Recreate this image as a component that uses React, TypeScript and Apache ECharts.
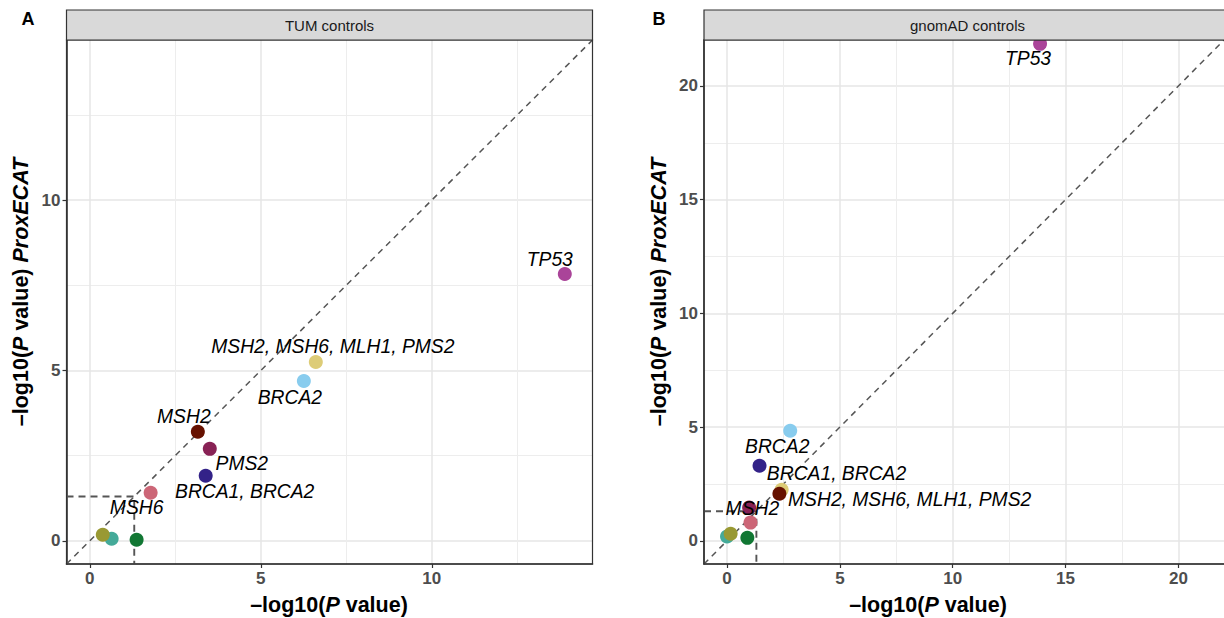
import { useEffect, useRef } from 'react';
import * as echarts from 'echarts';

// ---- data ----
const pointColors = ['#44AA99', '#999933', '#117733', '#CC6677', '#882255', '#332288', '#DDCC77', '#661100', '#88CCEE', '#AA4499'];

// Panel A: TUM controls
const tumX = [0.64, 0.38, 1.37, 1.78, 3.51, 3.39, 6.61, 3.16, 6.26, 13.89];
const tumY = [0.06, 0.18, 0.03, 1.41, 2.70, 1.91, 5.25, 3.20, 4.69, 7.83];
const tumLabels = ['', '', '', 'MSH6', 'PMS2', 'BRCA1, BRCA2', 'MSH2, MSH6, MLH1, PMS2', 'MSH2', 'BRCA2', 'TP53'];

// Panel B: gnomAD controls
const gnomadX = [0.00, 0.16, 0.90, 1.04, 0.98, 1.44, 2.42, 2.32, 2.80, 13.87];
const gnomadY = [0.19, 0.31, 0.13, 0.80, 1.46, 3.30, 2.24, 2.07, 4.84, 21.85];
const gnomadLabels = ['', '', '', '', '', 'BRCA1, BRCA2', 'MSH2, MSH6, MLH1, PMS2', 'MSH2', 'BRCA2', 'TP53'];

const tumTicks = [0, 5, 10];
const gnomadTicks = [0, 5, 10, 15, 20];
const tumRange = [-0.68, 14.7];
const gnomadRange = [-1.02, 22.02];
const threshold = 1.30103; // -log10(0.05)

const panelTitles = ['TUM controls', 'gnomAD controls'];

// ---- layout (not data) ----
const FONT = '"Liberation Sans", Arial, Helvetica, sans-serif';
const gridA = { left: 66.5, top: 40, width: 526, height: 524 };
const gridB = { left: 704, top: 40, width: 527, height: 524 };
const tumLabelOffsets: Record<string, number[]> = {
  'TP53': [-15, -15],
  'MSH2, MSH6, MLH1, PMS2': [17, -15],
  'BRCA2': [-14, 16],
  'MSH2': [-14, -15],
  'PMS2': [32, 15],
  'BRCA1, BRCA2': [39, 16],
  'MSH6': [-14, 15],
};
const gnomadLabelOffsets: Record<string, number[]> = {
  'TP53': [-12, 15],
  'BRCA2': [-13, 16],
  'BRCA1, BRCA2': [77, 8],
  'MSH2, MSH6, MLH1, PMS2': [128, 10],
  'MSH2': [-27, 15],
};

function scatterSeries(xs: number[], ys: number[], labels: string[], offsets: Record<string, number[]>, idx: number) {
  return {
    type: 'scatter',
    xAxisIndex: idx,
    yAxisIndex: idx,
    symbolSize: 14,
    z: 5,
    clip: true,
    data: xs.map((x, i) => ({
      value: [x, ys[i]],
      itemStyle: { color: pointColors[i], opacity: 1 },
      label: labels[i]
        ? { show: true, formatter: labels[i], position: 'inside', offset: offsets[labels[i]] }
        : { show: false },
    })),
    label: {
      fontStyle: 'italic',
      fontSize: 19.3,
      color: '#000',
      fontFamily: FONT,
      textBorderWidth: 0,
    },
    emphasis: { disabled: true },
  };
}

function lineSeries(data: number[][], idx: number, dash: number[], width: number) {
  return {
    type: 'line',
    xAxisIndex: idx,
    yAxisIndex: idx,
    data,
    symbol: 'none',
    z: 3,
    lineStyle: { color: '#555555', width, type: dash },
    silent: true,
  };
}

function axisCommon(range: number[], ticks: number[], splitNumber: number) {
  return {
    type: 'value',
    min: range[0],
    max: range[1],
    splitNumber,
    axisLine: { show: true, onZero: false, lineStyle: { color: '#333333', width: 1.6 } },
    axisTick: { show: true, length: 4, lineStyle: { color: '#333333', width: 1.2 }, customValues: ticks },
    axisLabel: {
      customValues: ticks,
      formatter: (v: number) => (ticks.some((t) => Math.abs(t - v) < 1e-6) ? String(v) : ''),
      color: '#4D4D4D',
      fontWeight: 'bold',
      fontSize: 17,
      fontFamily: FONT,
      margin: 6,
    },
    splitLine: { show: true, lineStyle: { color: '#E6E6E6', width: 1.5 } },
    minorTick: { show: false, splitNumber: 2 },
    minorSplitLine: { show: true, lineStyle: { color: '#EDEDED', width: 1 } },
  };
}

const richTitle = {
  a: { fontSize: 21.5, fontWeight: 'bold', fontFamily: FONT, fill: '#000' },
  b: { fontSize: 21.5, fontWeight: 'bold', fontStyle: 'italic', fontFamily: FONT, fill: '#000' },
};

export default function App() {
  const ref = useRef<HTMLDivElement>(null);
  useEffect(() => {
    if (!ref.current) return;
    const chart = echarts.init(ref.current, undefined, { renderer: 'svg' });
    const grids = [gridA, gridB];
    const option: any = {
      animation: false,
      backgroundColor: '#ffffff',
      grid: grids.map((g) => ({ ...g, containLabel: false })),
      xAxis: [
        { gridIndex: 0, ...axisCommon(tumRange, tumTicks, 3) },
        { gridIndex: 1, ...axisCommon(gnomadRange, gnomadTicks, 5) },
      ],
      yAxis: [
        { gridIndex: 0, ...axisCommon(tumRange, tumTicks, 3) },
        { gridIndex: 1, ...axisCommon(gnomadRange, gnomadTicks, 5) },
      ],
      series: [
        lineSeries([[tumRange[0], tumRange[0]], [tumRange[1], tumRange[1]]], 0, [6, 5], 1.5),
        lineSeries([[tumRange[0], threshold], [threshold, threshold], [threshold, tumRange[0]]], 0, [7, 5], 1.9),
        scatterSeries(tumX, tumY, tumLabels, tumLabelOffsets, 0),
        lineSeries([[gnomadRange[0], gnomadRange[0]], [gnomadRange[1], gnomadRange[1]]], 1, [6, 5], 1.5),
        lineSeries([[gnomadRange[0], threshold], [threshold, threshold], [threshold, gnomadRange[0]]], 1, [7, 5], 1.9),
        scatterSeries(gnomadX, gnomadY, gnomadLabels, gnomadLabelOffsets, 1),
      ],
      graphic: [
        ...grids.flatMap((g, i) => [
          {
            type: 'rect', z: 100,
            shape: { x: g.left, y: g.top, width: g.width, height: g.height },
            style: { fill: 'none', stroke: '#333333', lineWidth: 1.2 },
            silent: true,
          },
          {
            type: 'rect', z: 100,
            shape: { x: g.left, y: 10, width: g.width, height: 30 },
            style: { fill: '#D9D9D9', stroke: '#333333', lineWidth: 1.2 },
            silent: true,
          },
          {
            type: 'text', z: 101,
            x: g.left + g.width / 2, y: 25,
            style: { text: panelTitles[i], fill: '#1A1A1A', font: `15px ${FONT}`, align: 'center', verticalAlign: 'middle' },
            silent: true,
          },
        ]),
        { type: 'text', z: 101, x: 28, y: 19, style: { text: 'A', fill: '#000', font: `bold 18px ${FONT}`, align: 'center', verticalAlign: 'middle' } },
        { type: 'text', z: 101, x: 659, y: 19, style: { text: 'B', fill: '#000', font: `bold 18px ${FONT}`, align: 'center', verticalAlign: 'middle' } },
        {
          type: 'text', z: 101, x: 329, y: 605,
          style: { text: '{a|–log10(}{b|P}{a| value)}', rich: richTitle, align: 'center', verticalAlign: 'middle' },
        },
        {
          type: 'text', z: 101, x: 928, y: 605,
          style: { text: '{a|–log10(}{b|P}{a| value)}', rich: richTitle, align: 'center', verticalAlign: 'middle' },
        },
        {
          type: 'text', z: 101, x: 21, y: 292, rotation: Math.PI / 2,
          style: { text: '{a|–log10(}{b|P}{a| value) }{b|ProxECAT}', rich: richTitle, align: 'center', verticalAlign: 'middle' },
        },
        {
          type: 'text', z: 101, x: 659, y: 292, rotation: Math.PI / 2,
          style: { text: '{a|–log10(}{b|P}{a| value) }{b|ProxECAT}', rich: richTitle, align: 'center', verticalAlign: 'middle' },
        },
      ],
    };
    chart.setOption(option);
    return () => chart.dispose();
  }, []);
  return <div ref={ref} style={{ position: 'fixed', left: 0, top: 0, width: 1224, height: 618 }} />;
}
